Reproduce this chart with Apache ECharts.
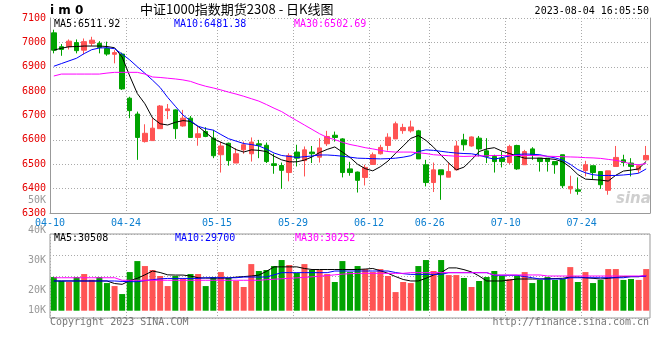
<!DOCTYPE html>
<html><head><meta charset="utf-8">
<script src="https://cdn.jsdelivr.net/npm/echarts/dist/echarts.min.js"></script>
<style>html,body{margin:0;padding:0;background:#fff}#c{width:660px;height:360px}</style>
</head><body><div id="c"></div>
<script>
// ---------- data ----------
const axisDates = ['04-10','04-11','04-12','04-13','04-14','04-17','04-18','04-19','04-20','04-21','04-24','04-25','04-26','04-27','04-28','05-04','05-05','05-08','05-09','05-10','05-11','05-12','05-15','05-16','05-17','05-18','05-19','05-22','05-23','05-24','05-25','05-26','05-29','05-30','05-31','06-01','06-02','06-05','06-06','06-07','06-08','06-09','06-12','06-13','06-14','06-15','06-16','06-19','06-20','06-21','06-26','06-27','06-28','06-29','06-30','07-03','07-04','07-05','07-06','07-07','07-10','07-11','07-12','07-13','07-14','07-17','07-18','07-19','07-20','07-21','07-24','07-25','07-26','07-27','07-28','07-31','08-01','08-02','08-03','08-04'];
const candleDates = axisDates.slice(1);
const xTickLabels = ['04-10','04-24','05-15','05-29','06-12','06-26','07-10','07-24'];

const opens  = [7039,6982,6982,6999,6968,6996,6996,6975,6951,6952,6771,6706,6593,6597,6646,6720,6723,6657,6689,6610,6634,6607,6539,6586,6505,6559,6543,6584,6578,6502,6495,6466,6550,6515,6550,6529,6584,6619,6604,6481,6468,6446,6499,6543,6577,6604,6638,6637,6637,6498,6425,6477,6447,6477,6600,6575,6607,6555,6532,6525,6507,6577,6498,6563,6525,6525,6511,6539,6399,6395,6474,6494,6470,6393,6491,6518,6505,6477,6518];
const closes = [6968,6971,7005,6966,7003,7009,6979,6952,6958,6809,6720,6610,6627,6648,6739,6727,6646,6689,6610,6625,6614,6535,6575,6515,6543,6580,6591,6578,6511,6495,6475,6536,6525,6559,6543,6567,6614,6610,6466,6466,6434,6487,6539,6569,6611,6666,6651,6653,6522,6425,6477,6457,6470,6575,6580,6612,6563,6532,6511,6511,6573,6481,6552,6539,6511,6511,6498,6412,6409,6389,6498,6466,6416,6473,6528,6507,6491,6494,6536];
const lows   = [6955,6945,6971,6955,6951,6985,6955,6945,6914,6805,6689,6518,6589,6597,6646,6685,6604,6654,6610,6576,6611,6525,6466,6494,6505,6543,6511,6525,6505,6461,6399,6430,6491,6450,6505,6507,6575,6593,6446,6453,6384,6413,6499,6540,6556,6604,6625,6630,6522,6409,6386,6354,6447,6477,6556,6572,6532,6505,6466,6487,6500,6477,6498,6518,6470,6470,6461,6402,6379,6375,6450,6439,6399,6375,6491,6491,6450,6464,6518];
const highs  = [7052,6993,7012,7012,7016,7023,7005,7003,6968,6958,6777,6716,6664,6689,6743,6747,6725,6723,6698,6655,6652,6641,6593,6589,6566,6593,6610,6600,6589,6543,6507,6545,6580,6573,6575,6607,6637,6634,6607,6510,6470,6498,6548,6580,6627,6675,6666,6679,6641,6518,6507,6477,6507,6596,6625,6614,6616,6607,6539,6552,6580,6580,6559,6570,6525,6525,6511,6539,6453,6446,6514,6494,6470,6473,6575,6539,6525,6494,6575];

const ma5  = [6968,6976,6982,6983,6985,6985,6985,6983,6978,6940,6862,6790,6748,6690,6666,6661,6672,6679,6676,6655,6630,6605,6590,6578,6560,6550,6559,6557,6552,6533,6518,6510,6510,6517,6530,6548,6561,6571,6550,6528,6500,6482,6473,6490,6513,6545,6575,6606,6618,6598,6570,6537,6505,6477,6488,6518,6552,6563,6568,6554,6544,6534,6525,6525,6525,6523,6520,6510,6488,6458,6439,6437,6435,6431,6455,6472,6476,6481,6512];
const ma10 = [6902,6913,6924,6935,6954,6970,6977,6978,6974,6952,6928,6900,6873,6845,6815,6774,6738,6702,6678,6656,6646,6640,6622,6605,6595,6585,6581,6575,6562,6546,6536,6532,6528,6531,6534,6538,6538,6536,6533,6529,6525,6524,6523,6522,6523,6525,6529,6535,6552,6559,6557,6553,6549,6546,6544,6543,6537,6528,6521,6527,6534,6540,6542,6541,6539,6532,6526,6517,6500,6478,6465,6457,6454,6454,6454,6456,6459,6463,6481];
const ma30 = [6862,6870,6870,6870,6870,6870,6870,6874,6877,6877,6877,6877,6870,6858,6856,6853,6850,6846,6840,6829,6820,6813,6805,6796,6788,6779,6769,6759,6745,6730,6716,6697,6679,6661,6643,6625,6610,6601,6590,6581,6575,6568,6563,6557,6552,6550,6550,6550,6547,6544,6539,6537,6535,6533,6532,6533,6534,6535,6536,6536,6536,6536,6536,6536,6535,6533,6532,6531,6530,6529,6527,6526,6524,6520,6516,6510,6501,6498,6503];

const volumes = [29100,25700,24800,29100,31700,26800,29100,23900,21300,14400,33400,42900,38600,35200,30000,21300,30000,27400,31700,31700,21300,29100,33400,28300,25700,20500,40300,34300,35200,38600,43800,39500,32600,40300,35200,35200,31700,24800,42900,33400,38600,36000,33400,36000,30000,16100,24800,23900,38600,43800,34300,43800,30800,30800,28300,20500,25700,29100,34300,30000,27400,30000,33400,23900,26600,29100,26600,27400,37700,24800,33400,23900,26600,36000,36000,26600,27400,26600,36000];
const volMa5  = [25700,25700,25700,25700,25700,25700,25700,25700,23500,22800,26000,28000,31000,34300,33000,31000,30800,30800,30000,28500,28200,28200,28200,28200,29000,29500,30000,30800,34000,37900,37900,37900,37900,36500,35600,35600,35600,35600,35600,35600,35600,36000,36500,34500,32300,29500,27000,25700,25700,28000,30800,33000,37000,37000,35500,33500,30000,25700,25700,25700,26500,27400,27400,27400,27400,27600,27800,28000,29100,29100,28500,28000,27400,28000,28800,29400,29400,29400,30508];
const volMa10 = [25700,25700,25700,25700,25700,25700,25700,25700,25700,25300,25100,25100,26000,26800,27500,27900,27900,27900,27900,27900,28500,28500,28500,28500,28500,29100,29100,29100,29100,31000,32900,32900,32900,32900,32900,32900,32900,34300,34300,34300,34300,34300,34300,34300,34300,33000,32000,31400,31400,31400,31400,31400,32900,32900,32900,32900,32900,32900,30600,30600,30600,30600,29500,28500,27400,27400,27400,27400,28500,28500,28500,28500,28500,28500,28500,28500,29500,29500,29700];
const volMa30 = [28500,28500,28500,28500,28500,28500,28500,28500,28500,26300,26300,26300,26300,26300,26300,26300,26300,26300,26300,26300,26300,26300,26300,26300,26300,26300,26300,26300,26800,27200,27600,28000,28400,28800,29300,29800,30400,31000,31600,32000,32300,32300,32300,32300,32300,32300,32300,32900,32900,32900,32900,32900,32900,32900,32900,32900,32900,32900,30900,30900,30900,30900,30900,30900,30900,30000,30000,30000,30000,30000,30000,30000,30000,30000,30000,30000,30000,30000,30252];

const volTickLabels = ['10K','20K','30K','40K','50K'];

// ---------- chart ----------
const RED = '#ff5454', GREEN = '#00a300';
const MONO = 'DejaVu Sans Mono';
const GRIDC = '#aaa', FRAME = '#999';
const dotted = {color: GRIDC, type: [1, 2], width: 1};
const showTick = (i, v) => xTickLabels.indexOf(v) >= 0;

const candleData = opens.map((o, i) => [o, closes[i], lows[i], highs[i]]);
const volData = volumes.map((v, i) => ({value: v, itemStyle: {color: closes[i] >= opens[i] ? RED : GREEN}}));

const chart = echarts.init(document.getElementById('c'), null, {renderer: 'canvas'});
const txt = (text, pos, style) => Object.assign({text, padding: 0, itemGap: 0,
  textStyle: Object.assign({fontFamily: MONO, fontSize: 10, fontWeight: 'normal', color: '#000'}, style)}, pos);

chart.setOption({
  animation: false,
  backgroundColor: '#fff',
  title: [
    txt('i m 0', {left: 50, top: 5}, {fontFamily: 'DejaVu Sans', fontWeight: 'bold', fontSize: 12}),
    txt('中证1000指数期货2308 - 日K线图', {left: 140, top: 3}, {fontFamily: 'Noto Sans CJK SC', fontSize: 13}),
    txt('2023-08-04 16:05:50', {right: 11, top: 6}, {}),
    txt('MA5:6511.92', {left: 54, top: 19}, {color: '#000'}),
    txt('MA10:6481.38', {left: 174, top: 19}, {color: '#0000ff'}),
    txt('MA30:6502.69', {left: 294, top: 19}, {color: '#ff00ff'}),
    txt('MA5:30508', {left: 54, top: 233}, {color: '#000'}),
    txt('MA10:29700', {left: 175, top: 233}, {color: '#0000ff'}),
    txt('MA30:30252', {left: 295, top: 233}, {color: '#ff00ff'}),
    txt('Copyright 2023 SINA.COM', {left: 50, top: 317}, {color: '#777'}),
    txt('http://finance.sina.com.cn', {right: 11, top: 317}, {color: '#777'}),
    txt('sina', {left: 616, top: 192}, {fontFamily: 'DejaVu Sans', fontStyle: 'italic', fontWeight: 'bold', fontSize: 15, color: '#cfcfcf'})
  ],
  grid: [
    {left: 50, right: 10, top: 18, height: 195},
    {left: 50, right: 10, top: 234, height: 84, show: true, borderColor: FRAME, borderWidth: 1},
    {left: 50, right: 10, top: 200.7, height: 120}
  ],
  xAxis: [
    {gridIndex: 0, type: 'category', data: candleDates, boundaryGap: true,
     axisLine: {show: true, onZero: false, lineStyle: {color: FRAME}}, axisTick: {show: false}, axisLabel: {show: false}, splitLine: {show: false}},
    {gridIndex: 0, type: 'category', data: axisDates, boundaryGap: false, position: 'bottom',
     axisLine: {show: false}, axisTick: {show: false},
     axisLabel: {interval: showTick, color: '#0c7fd0', fontFamily: MONO, fontSize: 10, margin: 5, showMinLabel: true, hideOverlap: false},
     splitLine: {show: true, interval: showTick, lineStyle: dotted}},
    {gridIndex: 1, type: 'category', data: candleDates, boundaryGap: true,
     axisLine: {show: false}, axisTick: {show: false}, axisLabel: {show: false}, splitLine: {show: false}},
    {gridIndex: 1, type: 'category', data: axisDates, boundaryGap: false,
     axisLine: {show: false}, axisTick: {show: false}, axisLabel: {show: false},
     splitLine: {show: true, interval: showTick, lineStyle: dotted}},
    {gridIndex: 2, type: 'value', show: false}
  ],
  yAxis: [
    {gridIndex: 0, type: 'value', min: 6300, max: 7100, interval: 100, position: 'left',
     axisLine: {show: true, onZero: false, lineStyle: {color: FRAME}}, axisTick: {show: false},
     axisLabel: {color: '#e60000', fontFamily: MONO, fontSize: 10, margin: 4, padding: [0, 0, 3, 0], formatter: v => String(v)},
     splitLine: {show: true, lineStyle: dotted}},
    {gridIndex: 0, type: 'value', min: 0, max: 1, position: 'right',
     axisLine: {show: true, onZero: false, lineStyle: {color: FRAME}}, axisTick: {show: false}, axisLabel: {show: false}, splitLine: {show: false}},
    {gridIndex: 1, type: 'value', min: -6300, max: 66300,
     axisLine: {show: false}, axisTick: {show: false}, axisLabel: {show: false}, splitLine: {show: false}},
    {gridIndex: 1, type: 'value', min: 0, max: 4, interval: 1,
     axisLine: {show: false}, axisTick: {show: false}, axisLabel: {show: false}, splitLine: {show: true, lineStyle: dotted}},
    {gridIndex: 2, type: 'value', min: 10000, max: 50000, interval: 10000,
     axisLine: {show: false}, axisTick: {show: false}, splitLine: {show: false},
     axisLabel: {color: '#999', fontFamily: MONO, fontSize: 10, margin: 4,
       formatter: v => { const t = volTickLabels[Math.round((v - 10000) / 10000)]; return v === 10000 ? '{lo|' + t + '}' : t; },
       rich: {lo: {color: '#999', fontFamily: MONO, fontSize: 10, padding: [0, 0, 20, 0]}}}}
  ],
  series: [
    {type: 'candlestick', xAxisIndex: 0, yAxisIndex: 0, data: candleData, barWidth: 5,
     itemStyle: {color: RED, color0: GREEN, borderColor: RED, borderColor0: GREEN, borderWidth: 1}},
    {type: 'line', xAxisIndex: 0, yAxisIndex: 0, data: ma5, showSymbol: false, lineStyle: {color: '#000', width: 1}, z: 5},
    {type: 'line', xAxisIndex: 0, yAxisIndex: 0, data: ma10, showSymbol: false, lineStyle: {color: '#0000ff', width: 1}, z: 5},
    {type: 'line', xAxisIndex: 0, yAxisIndex: 0, data: ma30, showSymbol: false, lineStyle: {color: '#ff00ff', width: 1}, z: 5},
    {type: 'bar', xAxisIndex: 2, yAxisIndex: 2, data: volData, barWidth: 6},
    {type: 'line', xAxisIndex: 2, yAxisIndex: 2, data: volMa5, showSymbol: false, lineStyle: {color: '#000', width: 1}, z: 5},
    {type: 'line', xAxisIndex: 2, yAxisIndex: 2, data: volMa10, showSymbol: false, lineStyle: {color: '#0000ff', width: 1}, z: 5},
    {type: 'line', xAxisIndex: 2, yAxisIndex: 2, data: volMa30, showSymbol: false, lineStyle: {color: '#ff00ff', width: 1}, z: 5}
  ]
});
</script>
</body></html>
